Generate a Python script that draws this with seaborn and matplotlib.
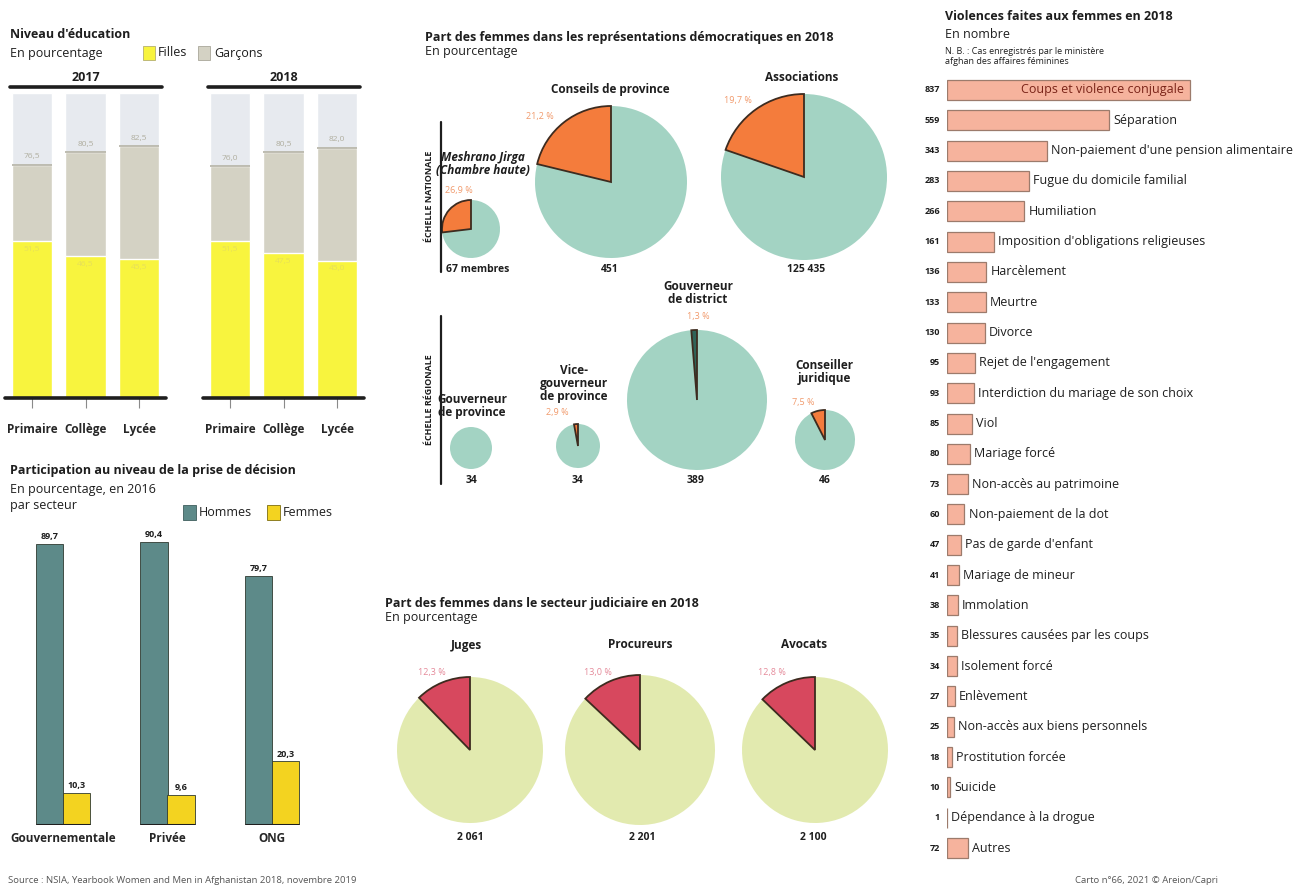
import matplotlib
matplotlib.use("Agg")
import matplotlib.pyplot as plt
from matplotlib.patches import Rectangle
from matplotlib.lines import Line2D
import pandas as pd
import seaborn as sns

# ---------------- Données ----------------
# Niveau d'éducation (en %)
edu_levels = ["Primaire", "Collège", "Lycée"]
edu_years = ["2017", "2018"]
edu_filles_2017 = [51.5, 46.5, 45.5]
edu_garcons_2017 = [76.5, 80.5, 82.5]
edu_filles_2018 = [51.5, 47.5, 45.0]
edu_garcons_2018 = [76.0, 80.5, 82.0]
edu_scale = [100, 100, 100]

# Participation au niveau de la prise de décision, 2016 (en %)
sectors = ["Gouvernementale", "Privée", "ONG"]
decision_hommes = [89.7, 90.4, 79.7]
decision_femmes = [10.3, 9.6, 20.3]

# Représentations démocratiques, 2018 (part des femmes, en %)
national_bodies = ["Meshrano Jirga\n(Chambre haute)", "Conseils de province", "Associations"]
national_share = [26.9, 21.2, 19.7]
national_totals = ["67 membres", "451", "125 435"]
regional_bodies = ["Gouverneur\nde province", "Vice-\ngouverneur\nde province",
                   "Gouverneur\nde district", "Conseiller\njuridique"]
regional_share = [0.0, 2.9, 1.3, 7.5]
regional_totals = ["34", "34", "389", "46"]

# Secteur judiciaire, 2018 (part des femmes, en %)
judicial_roles = ["Juges", "Procureurs", "Avocats"]
judicial_share = [12.3, 13.0, 12.8]
judicial_totals = ["2 061", "2 201", "2 100"]

# Violences faites aux femmes en 2018 (en nombre)
violence_types = [
    "Coups et violence conjugale", "Séparation",
    "Non-paiement d'une pension alimentaire", "Fugue du domicile familial",
    "Humiliation", "Imposition d'obligations religieuses", "Harcèlement",
    "Meurtre", "Divorce", "Rejet de l'engagement",
    "Interdiction du mariage de son choix", "Viol", "Mariage forcé",
    "Non-accès au patrimoine", "Non-paiement de la dot", "Pas de garde d'enfant",
    "Mariage de mineur", "Immolation", "Blessures causées par les coups",
    "Isolement forcé", "Enlèvement", "Non-accès aux biens personnels",
    "Prostitution forcée", "Suicide", "Dépendance à la drogue", "Autres",
]
violence_counts = [837, 559, 343, 283, 266, 161, 136, 133, 130, 95, 93, 85, 80,
                   73, 60, 47, 41, 38, 35, 34, 27, 25, 18, 10, 1, 72]

# ---------------- Style ----------------
sns.set_theme(style="white")
plt.rcParams["font.family"] = ["Open Sans", "DejaVu Sans"]

EDU_YELLOW = "#f8f43e"
EDU_GRAY = "#d4d2c4"
EDU_BG = "#e7eaef"
TEAL = "#5d8a89"
GOLD = "#f3d320"
PIE_TEAL = "#a3d3c3"
ORANGE = "#f47c3c"
WEDGE_EDGE = "#3d2b1f"
PIE_GREEN = "#e2eaaf"
CRIMSON = "#d7485e"
SALMON = "#f6b39d"
SALMON_EDGE = "#9c7b6c"
INK = "#1e1e1e"

TITLE = 9
BODY = 9
PIE_TITLE = 8.5

W, H = 1312, 888
fig = plt.figure(figsize=(W / 100, H / 100), dpi=100)
fig.patch.set_facecolor("white")


def rect(l, t, r, b):
    return [l / W, 1 - b / H, (r - l) / W, (b - t) / H]


def ftext(x, y, s, **kw):
    kw.setdefault("va", "center")
    kw.setdefault("color", INK)
    fig.text(x / W, 1 - y / H, s, **kw)


def fline(x0, y0, x1, y1, **kw):
    fig.add_artist(Line2D([x0 / W, x1 / W], [1 - y0 / H, 1 - y1 / H],
                          transform=fig.transFigure, **kw))


def fbox(x, y, w, h, **kw):
    fig.add_artist(Rectangle((x / W, 1 - (y + h) / H), w / W, h / H,
                             transform=fig.transFigure, **kw))


def fmt(v):
    return f"{v:.1f}".replace(".", ",")


def clean(ax):
    for s in ax.spines.values():
        s.set_visible(False)
    ax.set_xlabel("")
    ax.set_ylabel("")
    ax.set_yticks([])
    ax.set_facecolor("none")


# ---------------- Niveau d'éducation ----------------
ftext(10, 35, "Niveau d'éducation", fontsize=TITLE, fontweight="bold")
ftext(10, 53, "En pourcentage", fontsize=BODY)
fbox(143, 46, 12, 14, facecolor=EDU_YELLOW, edgecolor="#b5b070", lw=0.6)
ftext(158, 53, "Filles", fontsize=BODY)
fbox(198, 46, 12, 14, facecolor=EDU_GRAY, edgecolor="#a9a79a", lw=0.6)
ftext(214, 53, "Garçons", fontsize=BODY)

edu_sets = [(edu_filles_2017, edu_garcons_2017, 5, 166),
            (edu_filles_2018, edu_garcons_2018, 203, 364)]
for year, (filles, garcons, l, r) in zip(edu_years, edu_sets):
    ax = fig.add_axes(rect(l, 93, r, 398))
    df = pd.DataFrame({"niveau": edu_levels, "filles": filles,
                       "garcons": garcons, "echelle": edu_scale})
    sns.barplot(data=df, x="niveau", y="echelle", color=EDU_BG, width=0.75,
                saturation=1, ax=ax)
    sns.barplot(data=df, x="niveau", y="garcons", color=EDU_GRAY, width=0.75,
                saturation=1, ax=ax)
    sns.barplot(data=df, x="niveau", y="filles", color=EDU_YELLOW, width=0.75,
                saturation=1, ax=ax)
    ax.set_ylim(0, 100)
    ax.set_xlim(-0.5, 2.5)
    clean(ax)
    for i, (f, g) in enumerate(zip(filles, garcons)):
        ax.hlines(g, i - 0.375, i + 0.375, color="#b4b2a4", lw=1.2)
        ax.text(i, g + 1.5, fmt(g), ha="center", va="bottom", fontsize=6,
                color="#b0ae9f")
        ax.text(i, f - 1.5, fmt(f), ha="center", va="top", fontsize=6,
                color="#e6df5a")
    ax.axhline(0, color=INK, lw=2.6, clip_on=False)
    ax.tick_params(axis="x", length=7, width=0.8, color="#8a8a8a", pad=11,
                   bottom=True, labelsize=8.5)
    for lab in ax.get_xticklabels():
        lab.set_fontweight("bold")
    fline(l + 5, 87, r - 4, 87, color=INK, lw=2.6)
    ftext((l + r) / 2, 77, year, fontsize=TITLE, fontweight="bold", ha="center")

# ---------------- Participation à la prise de décision ----------------
ftext(10, 470, "Participation au niveau de la prise de décision", fontsize=TITLE,
      fontweight="bold")
ftext(10, 489, "En pourcentage, en 2016", fontsize=BODY)
ftext(10, 506, "par secteur", fontsize=BODY)
fbox(183, 505, 13, 15, facecolor=TEAL, edgecolor="#3e5e5d", lw=0.6)
ftext(199, 512, "Hommes", fontsize=BODY)
fbox(267, 505, 13, 15, facecolor=GOLD, edgecolor="#7d6d10", lw=0.6)
ftext(283, 512, "Femmes", fontsize=BODY)

ax = fig.add_axes(rect(11, 512, 324, 825))
dec = pd.DataFrame({
    "secteur": sectors * 2,
    "sexe": ["Hommes"] * 3 + ["Femmes"] * 3,
    "valeur": decision_hommes + decision_femmes,
})
sns.barplot(data=dec, x="secteur", y="valeur", hue="sexe",
            palette=[TEAL, GOLD], width=0.52, saturation=1, edgecolor="#2f3a30",
            linewidth=0.6, legend=False, ax=ax)
ax.set_ylim(0, 100)
ax.set_xlim(-0.5, 2.5)
clean(ax)
for cont in ax.containers:
    ax.bar_label(cont, labels=[fmt(b.get_height()) for b in cont], padding=2,
                 fontsize=6.5, fontweight="bold", color=INK)
for i in range(len(sectors)):
    ax.hlines(0, i - 0.26, i + 0.26, color=INK, lw=2.2)
ax.tick_params(axis="x", length=0, pad=5, labelsize=8.5)
for lab in ax.get_xticklabels():
    lab.set_fontweight("bold")

# ---------------- Représentations démocratiques ----------------
ftext(425, 37, "Part des femmes dans les représentations démocratiques en 2018",
      fontsize=TITLE, fontweight="bold")
ftext(425, 52, "En pourcentage", fontsize=BODY)
ftext(430, 196, "ÉCHELLE NATIONALE", fontsize=6.5, fontweight="bold",
      rotation=90, ha="center")
fline(441, 122, 441, 272, color=INK, lw=1.6)
ftext(430, 400, "ÉCHELLE RÉGIONALE", fontsize=6.5, fontweight="bold",
      rotation=90, ha="center")
fline(441, 316, 441, 484, color=INK, lw=1.6)


def draw_pie(cx, cy, r, share, base, wedge):
    ax = fig.add_axes(rect(cx - r - 2, cy - r - 2, cx + r + 2, cy + r + 2))
    wedges, _ = ax.pie([share, 100 - share], colors=[wedge, base], startangle=90,
                       counterclock=True, wedgeprops=dict(linewidth=0))
    if share > 0:
        wedges[0].set_edgecolor(WEDGE_EDGE)
        wedges[0].set_linewidth(1.3)
        wedges[0].set_zorder(3)
    lim = 1 + 2 / r
    ax.set_xlim(-lim, lim)
    ax.set_ylim(-lim, lim)
    ax.set_aspect("equal")
    ax.axis("off")


# national
nat_layout = [  # (cx, cy, r, title_xy, label_xy, total_xy)
    (471, 229, 29, (483, 164), (459, 191), (478, 270)),
    (611, 182, 76, (610, 90), (540, 117), (610, 270)),
    (804, 177, 83, (802, 77), (738, 100), (806, 270)),
]
for name, share, tot, (cx, cy, r, tpos, lpos, totpos) in zip(
        national_bodies, national_share, national_totals, nat_layout):
    draw_pie(cx, cy, r, share, PIE_TEAL, ORANGE)
    style = "italic" if name.startswith("Meshrano") else "normal"
    ftext(*tpos, name, fontsize=PIE_TITLE, fontweight="bold", ha="center",
          style=style, linespacing=1.05)
    ftext(*lpos, fmt(share) + " %", fontsize=6.5, color="#f19a6c", ha="center")
    ftext(*totpos, tot, fontsize=7.5, fontweight="bold", ha="center")

# régional
reg_layout = [
    (471, 448, 21, (472, 406), (0, 0), (472, 480)),
    (578, 446, 22, (574, 383), (557, 413), (577, 480)),
    (697, 400, 70, (698, 293), (698, 317), (696, 480)),
    (825, 440, 30, (824, 372), (803, 402), (825, 480)),
]
for name, share, tot, (cx, cy, r, tpos, lpos, totpos) in zip(
        regional_bodies, regional_share, regional_totals, reg_layout):
    draw_pie(cx, cy, r, share, PIE_TEAL, ORANGE if share > 2 else "#2f6358")
    ftext(*tpos, name, fontsize=PIE_TITLE, fontweight="bold", ha="center",
          linespacing=1.0)
    if share > 0:
        ftext(*lpos, fmt(share) + " %", fontsize=6.5, color="#f19a6c",
              ha="center")
    ftext(*totpos, tot, fontsize=7.5, fontweight="bold", ha="center")

# ---------------- Secteur judiciaire ----------------
ftext(385, 603, "Part des femmes dans le secteur judiciaire en 2018",
      fontsize=TITLE, fontweight="bold")
ftext(385, 618, "En pourcentage", fontsize=BODY)
jud_layout = [
    (470, 750, 73, (466, 645), (432, 672), (470, 837)),
    (640, 750, 75, (640, 645), (598, 672), (642, 837)),
    (815, 750, 73, (804, 645), (772, 672), (813, 837)),
]
for name, share, tot, (cx, cy, r, tpos, lpos, totpos) in zip(
        judicial_roles, judicial_share, judicial_totals, jud_layout):
    draw_pie(cx, cy, r, share, PIE_GREEN, CRIMSON)
    ftext(*tpos, name, fontsize=PIE_TITLE, fontweight="bold", ha="center")
    ftext(*lpos, fmt(share) + " %", fontsize=6.5, color="#e58a9a", ha="center")
    ftext(*totpos, tot, fontsize=7.5, fontweight="bold", ha="center")

# ---------------- Violences faites aux femmes ----------------
ftext(945, 17, "Violences faites aux femmes en 2018", fontsize=TITLE,
      fontweight="bold")
ftext(945, 35, "En nombre", fontsize=BODY)
ftext(945, 51, "N. B. : Cas enregistrés par le ministère", fontsize=6.5)
ftext(945, 62, "afghan des affaires féminines", fontsize=6.5)

ax = fig.add_axes(rect(947, 74.8, 1307, 863.2))
vio = pd.DataFrame({"type": violence_types, "nombre": violence_counts})
sns.barplot(data=vio, x="nombre", y="type", orient="h", color=SALMON,
            edgecolor=SALMON_EDGE, linewidth=0.9, width=0.66, saturation=1, ax=ax)
ax.set_xlim(0, 1240)
ax.set_ylim(len(violence_types) - 0.5, -0.5)
clean(ax)
ax.set_xticks([])
for i, (lab, n) in enumerate(zip(violence_types, violence_counts)):
    ax.annotate(str(n), xy=(0, i), xytext=(-5, 0), textcoords="offset points",
                ha="right", va="center", fontsize=6.5, fontweight="bold",
                color=INK)
    if i == 0:
        ax.annotate(lab, xy=(n, i), xytext=(-4, 0), textcoords="offset points",
                    ha="right", va="center", fontsize=BODY, color="#7a2418")
    else:
        ax.annotate(lab, xy=(n, i), xytext=(3, 0), textcoords="offset points",
                    ha="left", va="center", fontsize=BODY, color=INK)

# ---------------- Pied de page ----------------
ftext(8, 880, "Source : NSIA, Yearbook Women and Men in Afghanistan 2018, "
      "novembre 2019", fontsize=6.8, color="#555555")
ftext(1075, 880, "Carto n°66, 2021 © Areion/Capri", fontsize=6.8,
      color="#555555")

fig.savefig("out.png", dpi=100, facecolor="white")
